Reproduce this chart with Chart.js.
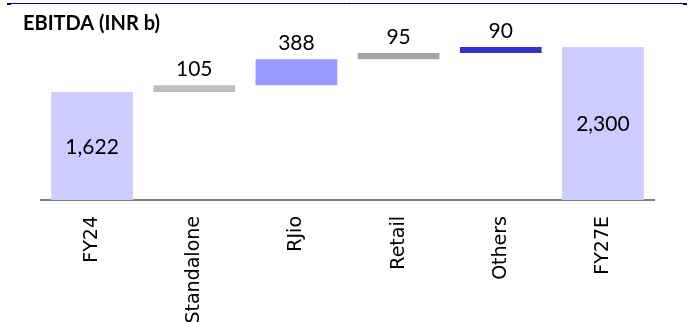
<!DOCTYPE html>
<html>
<head>
<meta charset="utf-8">
<script src="https://cdn.jsdelivr.net/npm/chart.js@4"></script>
<style>
  html, body { margin: 0; padding: 0; background: #fff; }
  #wrap { width: 692px; height: 322px; position: relative; }
</style>
</head>
<body>
<div id="wrap"><canvas id="bridge"></canvas></div>
<script>
// EBITDA bridge data

const categories = ["FY24", "Standalone", "RJio", "Retail", "Others", "FY27E"];
const values = [1622, 105, 388, 95, 90, 2300];
const isTotal = [true, false, false, false, false, true];
const barColors = ["#ccccff", "#bfbfbf", "#9999ff", "#a6a6a6", "#3333cc", "#ccccff"];
const valueLabels = ["1,622", "105", "388", "95", "90", "2,300"];

// build floating [start, end] ranges from the step values
let running = 0;
const ranges = values.map((v, i) => {
  if (isTotal[i]) {
    running = v;
    return [0, v];
  }
  const r = [running, running + v];
  running += v;
  return r;
});

// title + thin rule across the top
const headerPlugin = {
  id: "header",
  afterDraw(chart) {
    const ctx = chart.ctx;
    ctx.save();
    ctx.strokeStyle = "#000080";
    ctx.lineWidth = 1;
    ctx.beginPath();
    ctx.moveTo(7, 3.5);
    ctx.lineTo(686, 3.5);
    ctx.stroke();
    ctx.fillStyle = "#000080";
    ctx.fillRect(7, 3, 4, 2);
    ctx.fillRect(683, 3, 4, 2);

    ctx.fillStyle = "#000";
    ctx.font = "bold 20px Lato";
    ctx.textAlign = "left";
    ctx.textBaseline = "alphabetic";
    ctx.fillText("EBITDA (INR b)", 23, 30);
    ctx.restore();
  }
};

// value labels: inside the total bars, above the step bars
const valuePlugin = {
  id: "values",
  afterDatasetsDraw(chart) {
    const ctx = chart.ctx;
    const meta = chart.getDatasetMeta(0);
    ctx.save();
    ctx.fillStyle = "#000";
    ctx.font = "21px Lato";
    ctx.textAlign = "center";
    meta.data.forEach((bar, i) => {
      if (isTotal[i]) {
        ctx.textBaseline = "middle";
        ctx.fillText(valueLabels[i], bar.x, (bar.y + bar.base) / 2 + 1);
      } else {
        ctx.textBaseline = "alphabetic";
        ctx.fillText(valueLabels[i], bar.x, bar.y - 9);
      }
    });
    ctx.restore();
  }
};

new Chart(document.getElementById("bridge"), {
  type: "bar",
  data: {
    labels: categories,
    datasets: [{
      data: ranges,
      backgroundColor: barColors,
      borderWidth: 0,
      categoryPercentage: 0.8,
      barPercentage: 1
    }]
  },
  options: {
    responsive: true,
    maintainAspectRatio: false,
    animation: false,
    layout: { padding: { left: 41, right: 38, top: 30, bottom: 0 } },
    plugins: {
      legend: { display: false },
      tooltip: { enabled: false }
    },
    scales: {
      x: {
        grid: { display: false, drawTicks: false },
        border: { display: true, color: "#808080", width: 2 },
        ticks: {
          color: "#000",
          font: { family: "'DejaVu Sans'", size: 19 },
          minRotation: 90,
          maxRotation: 90,
          padding: 16,
          autoSkip: false
        },
        afterFit(scale) {
          scale.height = 122;
        }
      },
      y: {
        display: false,
        min: 0,
        max: 2556
      }
    }
  },
  plugins: [headerPlugin, valuePlugin]
});
</script>
</body>
</html>
